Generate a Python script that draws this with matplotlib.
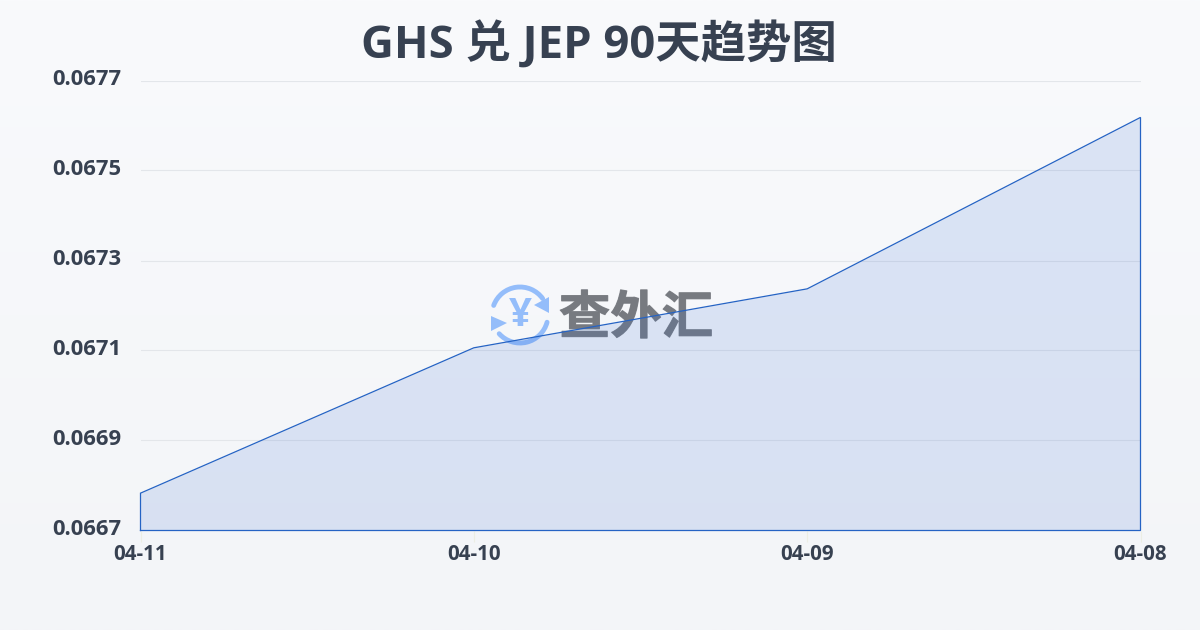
import numpy as np
import matplotlib
matplotlib.use("Agg")
import matplotlib.pyplot as plt
import matplotlib.patheffects as pe
from matplotlib.patches import Arc, Polygon
from matplotlib.transforms import ScaledTranslation, offset_copy

plt.rcParams["font.family"] = ["Open Sans", "Noto Sans CJK SC", "DejaVu Sans"]

dates = ["04-11", "04-10", "04-09", "04-08"]
rates = [0.066783, 0.067106, 0.067237, 0.067618]
y_ticks = [0.0667, 0.0669, 0.0671, 0.0673, 0.0675, 0.0677]
title = "GHS 兑 JEP 90天趋势图"
text_color = "#374151"
line_color = "#2563c4"

fig = plt.figure(figsize=(12, 6.3), dpi=100)

# page background, light vertical gradient
bg = fig.add_axes([0, 0, 1, 1], zorder=0)
bg.imshow(np.linspace(0, 1, 256).reshape(-1, 1), aspect="auto", extent=[0, 1200, 630, 0],
          cmap=matplotlib.colors.LinearSegmentedColormap.from_list("bg", ["#f9fafc", "#f3f5f8"]))
bg.set_xlim(0, 1200)
bg.set_ylim(630, 0)
bg.axis("off")

# plot area is x 140.5-1140.5, y 80.5-530.5 in pixels
ax = fig.add_axes([140.5 / 1200, 1 - 530.5 / 630, 1000 / 1200, 450 / 630], zorder=2)
ax.patch.set_alpha(0)
x = np.arange(len(dates))
ax.set_xlim(0, len(dates) - 1)
ax.set_ylim(y_ticks[0], y_ticks[-1])
ax.fill_between(x, rates, y_ticks[0], color="#2f66d0", alpha=0.14, lw=0, zorder=2)
ax.plot([0, 0, *x, x[-1], 0], [y_ticks[0], rates[0], *rates, y_ticks[0], y_ticks[0]],
        color=line_color, lw=0.9, zorder=3, solid_joinstyle="miter", clip_on=False)

ax.set_yticks(y_ticks)
ax.set_yticklabels([f"{v:.4f}" for v in y_ticks], fontsize=15.8, fontweight="bold",
                   color=text_color, va="center")
ax.set_xticks(x)
ax.set_xticklabels(dates, fontsize=14.8, fontweight="bold", color=text_color)
ax.tick_params(axis="y", length=0)
ax.tick_params(axis="x", length=8, width=0.8, color="#eceee4", pad=1.5)
# y labels sit a little above their grid lines
up = offset_copy(ax.get_yaxis_transform(), fig=fig, x=0, y=1, units="dots")
for lab in ax.get_yticklabels():
    lab.set_transform(up + ScaledTranslation(-14 / 72, 0, fig.dpi_scale_trans))
ax.grid(axis="y", color="#e3e6ea", lw=0.8, zorder=1)
ax.set_axisbelow(True)
for s in ax.spines.values():
    s.set_visible(False)

fig.text(599 / 1200, 1 - 45.5 / 630, title, ha="center", va="center", fontsize=32.7,
         fontweight="bold", color=text_color)

# watermark logo, under the chart's line and fill
wm = fig.add_axes([0, 0, 1, 1], zorder=1)
wm.set_xlim(0, 1200)
wm.set_ylim(630, 0)
wm.axis("off")
wm.patch.set_alpha(0)
blue = "#94bdfa"
wm.add_patch(Arc((520, 315), 56, 56, theta1=200, theta2=324, color=blue, lw=3.5, capstyle="round"))
wm.add_patch(Arc((520, 315), 56, 56, theta1=15, theta2=138, color=blue, lw=3.5, capstyle="round"))
wm.add_patch(Polygon([[549, 297], [549, 313], [534, 305]], color=blue, lw=0))
wm.add_patch(Polygon([[491, 316], [491, 331], [507, 323]], color=blue, lw=0))
wm.text(520, 315, "¥", ha="center", va="center", fontsize=29, fontweight="bold", color=blue)
wm.text(636, 318, "查外汇", ha="center", va="center", fontsize=37, fontweight="bold",
        color="#75787e", alpha=0.85, family=["Noto Sans CJK SC"],
        path_effects=[pe.withStroke(linewidth=0.8, foreground="#75787e", alpha=0.85)])

fig.savefig("out.png", dpi=100)
